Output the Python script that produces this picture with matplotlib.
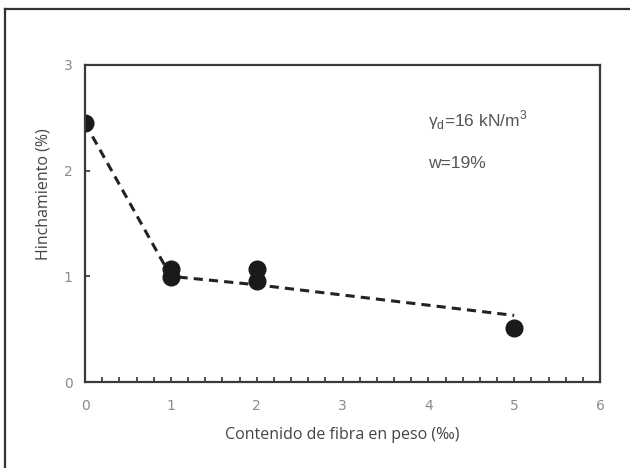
import numpy as np
import matplotlib
matplotlib.use('Agg')
import matplotlib.pyplot as plt
from matplotlib.ticker import MultipleLocator

plt.rcParams['mathtext.fontset'] = 'custom'
plt.rcParams['mathtext.rm'] = 'Liberation Sans'

# measured points
fibra = [0, 1, 1, 2, 2, 5]
hinch = [2.45, 1.07, 0.99, 1.07, 0.96, 0.51]

# trend line (dashed)
fibra_tend = [0, 1, 2, 5]
hinch_tend = [2.45, 1.0, 0.92, 0.63]

xticks = [0, 1, 2, 3, 4, 5, 6]
yticks = [0, 1, 2, 3]

fig = plt.figure(figsize=(6.3, 4.68), dpi=100)
ax = fig.add_axes([85/630, 86/468, 515/630, 317/468])

ax.plot(fibra_tend, hinch_tend, '--', color='#222222', lw=2.2, dashes=(3.0, 2.0))
ax.plot(fibra, hinch, 'o', color='#1a1a1a', ms=12, mec='#1a1a1a')

ax.set_xlim(0, 6)
ax.set_ylim(0, 3)
ax.set_xticks(xticks)
ax.set_yticks(yticks)
ax.xaxis.set_minor_locator(MultipleLocator(0.2))
ax.tick_params(axis='both', which='both', direction='in', color='#333333',
               labelcolor='#8a8a8a', labelsize=10)
ax.tick_params(axis='x', which='both', length=3.5, width=1.2, pad=12)
ax.tick_params(axis='y', which='both', length=3.5, width=1.2, pad=9)
for sp in ax.spines.values():
    sp.set_color('#3a3a3a')
    sp.set_linewidth(1.6)

ax.set_xlabel('Contenido de fibra en peso (‰)', fontsize=11.5, color='#444444',
              family='Open Sans', labelpad=10)
ax.set_ylabel('Hinchamiento (%)', fontsize=11.5, color='#444444',
              family='Open Sans')
ax.yaxis.set_label_coords(-0.066, 0.593)

ax.text(4.0, 2.48, r'γ$_{\rm d}$=16 kN/m$^{\rm 3}$', fontsize=12.5, color='#555555',
        family='Liberation Sans', va='center')
ax.text(4.0, 2.07, 'w=19%', fontsize=12.5, color='#555555',
        family='Liberation Sans', va='center')

# outer frame (left and top edges visible)
fig.add_artist(plt.Line2D([5/630, 5/630], [0, 1 - 9/468], color='#333333', lw=1.6))
fig.add_artist(plt.Line2D([5/630, 1], [1 - 9/468, 1 - 9/468], color='#333333', lw=1.6))

fig.savefig('out.png', dpi=100)
